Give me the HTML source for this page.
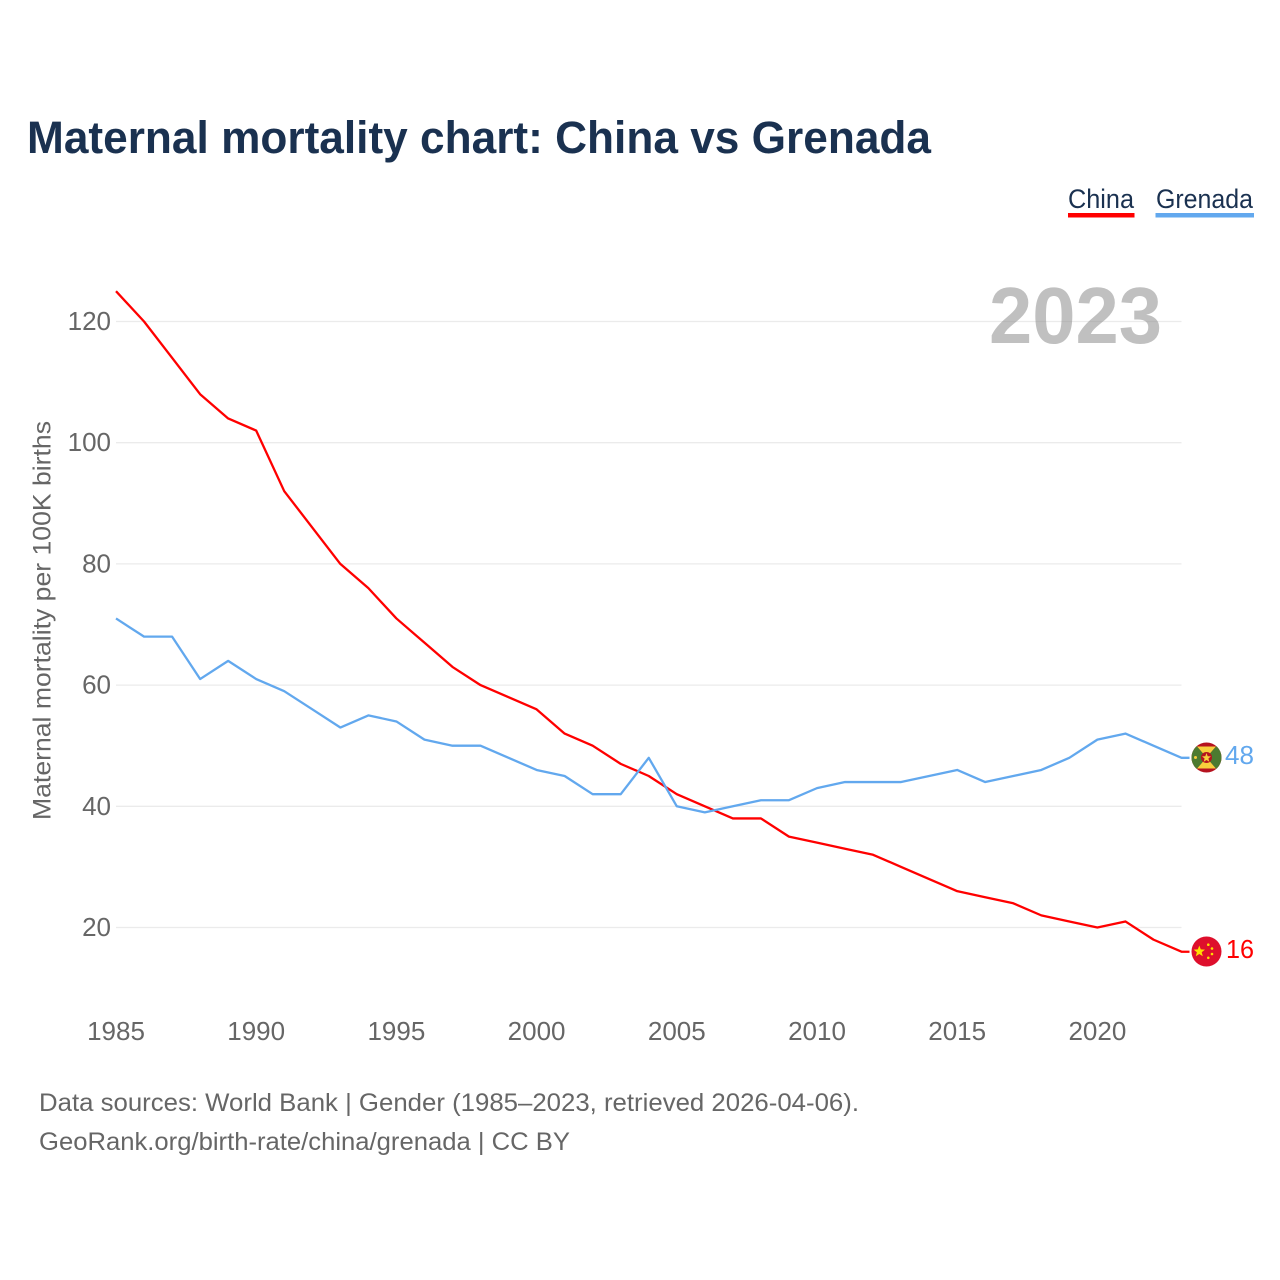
<!DOCTYPE html>
<html lang="en">
<head>
<meta charset="utf-8">
<title>Maternal mortality chart: China vs Grenada</title>
<style>
html,body{margin:0;padding:0;background:#fff;}
svg{display:block;font-family:"Liberation Sans",sans-serif;}
</style>
</head>
<body>
<svg id="chart" xmlns="http://www.w3.org/2000/svg" width="1280" height="1280" viewBox="0 0 1280 1280">
  <defs>
    <clipPath id="clip-gd"><circle cx="1206.5" cy="757.5" r="15"/></clipPath>
    <clipPath id="clip-cn"><circle cx="1206.5" cy="951.5" r="15"/></clipPath>
  </defs>
  <rect width="1280" height="1280" fill="#fff"/>
  <text x="27" y="153" font-size="45" font-weight="700" fill="#1a3150" textLength="904" lengthAdjust="spacingAndGlyphs">Maternal mortality chart: China vs Grenada</text>

  <g>
    <g>
      <text x="1068" y="208" font-size="27" fill="#1a3150" textLength="66" lengthAdjust="spacingAndGlyphs">China</text>
      <rect x="1068" y="213" width="66.5" height="4.5" fill="#ff0000"/>
    </g>
    <g>
      <text x="1156" y="208" font-size="27" fill="#1a3150" textLength="97" lengthAdjust="spacingAndGlyphs">Grenada</text>
      <rect x="1155.5" y="213" width="98.5" height="4.5" fill="#62a8ee"/>
    </g>
  </g>

  <g id="grid"></g>
  <g id="ylabels"></g>
  <g id="xlabels"></g>

  <text transform="translate(50.5,820) rotate(-90)" font-size="25" fill="#666" textLength="399" lengthAdjust="spacingAndGlyphs">Maternal mortality per 100K births</text>

  <text x="989" y="343" font-size="80" font-weight="700" fill="#8c8c8c" fill-opacity="0.55" textLength="173" lengthAdjust="spacingAndGlyphs">2023</text>

  <g id="series"></g>

  <g clip-path="url(#clip-gd)">
    <rect x="1191" y="742" width="31" height="31" fill="#b5121f"/>
    <polygon points="1197,746.5 1216,746.5 1206.5,757.5" fill="#f7cf3c"/>
    <polygon points="1197,768.5 1216,768.5 1206.5,757.5" fill="#f7cf3c"/>
    <polygon points="1190,740 1197,746.5 1206.5,757.5 1197,768.5 1190,775" fill="#4c7a30"/>
    <polygon points="1223,740 1216,746.5 1206.5,757.5 1216,768.5 1223,775" fill="#4c7a30"/>
    <circle cx="1206.5" cy="757.5" r="5.5" fill="#b5121f"/>
    <polygon points="1206.5,753 1207.7,756.2 1211,756.4 1208.4,758.5 1209.3,761.8 1206.5,760 1203.7,761.8 1204.6,758.5 1202,756.4 1205.3,756.2" fill="#f7cf3c"/>
    <circle cx="1195.5" cy="757.5" r="1.5" fill="#f7cf3c"/>
  </g>
  <text id="end-label-grenada" x="1225" y="764" font-size="26" fill="#62a8ee" textLength="29" lengthAdjust="spacingAndGlyphs"></text>

  <g clip-path="url(#clip-cn)">
    <rect x="1191" y="936" width="31" height="31" fill="#de0f2c"/>
    <polygon points="1199.3,945.5 1200.8,949.4 1205,949.6 1201.7,952.2 1202.8,956.3 1199.3,954 1195.8,956.3 1196.9,952.2 1193.6,949.6 1197.8,949.4" fill="#ffde00"/>
    <circle cx="1208.3" cy="944.7" r="1.3" fill="#ffde00"/>
    <circle cx="1212" cy="948.5" r="1.3" fill="#ffde00"/>
    <circle cx="1212" cy="954" r="1.3" fill="#ffde00"/>
    <circle cx="1208.3" cy="957.8" r="1.3" fill="#ffde00"/>
  </g>
  <text id="end-label-china" x="1226" y="958" font-size="26" fill="#ff0000" textLength="28" lengthAdjust="spacingAndGlyphs"></text>

  <g>
    <text x="39" y="1111" font-size="25" fill="#666" textLength="820" lengthAdjust="spacingAndGlyphs">Data sources: World Bank | Gender (1985–2023, retrieved 2026-04-06).</text>
    <text x="39" y="1150" font-size="25" fill="#666" textLength="531" lengthAdjust="spacingAndGlyphs">GeoRank.org/birth-rate/china/grenada | CC BY</text>
  </g>
</svg>
<script>
const years = [1985,1986,1987,1988,1989,1990,1991,1992,1993,1994,1995,1996,1997,1998,1999,2000,2001,2002,2003,2004,2005,2006,2007,2008,2009,2010,2011,2012,2013,2014,2015,2016,2017,2018,2019,2020,2021,2022,2023];
const chinaValues = [125,120,114,108,104,102,92,86,80,76,71,67,63,60,58,56,52,50,47,45,42,40,38,38,35,34,33,32,30,28,26,25,24,22,21,20,21,18,16];
const grenadaValues = [71,68,68,61,64,61,59,56,53,55,54,51,50,50,48,46,45,42,42,48,40,39,40,41,41,43,44,44,44,45,46,44,45,46,48,51,52,50,48];
const yTicks = [20,40,60,80,100,120];
const xTicks = [1985,1990,1995,2000,2005,2010,2015,2020];

const NS = 'http://www.w3.org/2000/svg';
const xScale = function (year) { return 116 + (year - 1985) * (1181.5 - 116) / 38; };
const yScale = function (value) { return 927.5 - (value - 20) * (927.5 - 321.5) / 100; };
const make = function (tag) { return document.createElementNS(NS, tag); };

const gridGroup = document.getElementById('grid');
const yGroup = document.getElementById('ylabels');
const xGroup = document.getElementById('xlabels');
const seriesGroup = document.getElementById('series');

yTicks.forEach(function (tick) {
  const line = make('line');
  
  
  line.setAttribute('x1', xScale(1985));
  line.setAttribute('x2', xScale(2023));
  line.setAttribute('y1', yScale(tick));
  line.setAttribute('y2', yScale(tick));
  line.setAttribute('stroke', '#ebebeb');
  line.setAttribute('stroke-width', '1.3');
  gridGroup.appendChild(line);

  const label = make('text');
  
  
  label.setAttribute('x', 111);
  label.setAttribute('y', yScale(tick) + 8.5);
  label.setAttribute('text-anchor', 'end');
  label.setAttribute('font-size', '26');
  label.setAttribute('fill', '#666');
  label.textContent = tick;
  yGroup.appendChild(label);
});

xTicks.forEach(function (tick) {
  const label = make('text');
  
  
  label.setAttribute('x', xScale(tick));
  label.setAttribute('y', 1040);
  label.setAttribute('text-anchor', 'middle');
  label.setAttribute('font-size', '26');
  label.setAttribute('fill', '#666');
  label.textContent = tick;
  xGroup.appendChild(label);
});

function drawSeries(values, color, name) {
  const pts = values.map(function (v, i) { return xScale(years[i]).toFixed(2) + ',' + yScale(v).toFixed(2); });
  const last = values[values.length - 1];
  pts.push((xScale(years[years.length - 1]) + 8).toFixed(2) + ',' + yScale(last).toFixed(2));
  const line = make('polyline');
  
  
  line.setAttribute('points', pts.join(' '));
  line.setAttribute('fill', 'none');
  line.setAttribute('stroke', color);
  line.setAttribute('stroke-width', '2.3');
  line.setAttribute('stroke-linejoin', 'round');
  seriesGroup.appendChild(line);
  document.getElementById('end-label-' + name).textContent = last;
}
drawSeries(chinaValues, '#ff0000', 'china');
drawSeries(grenadaValues, '#62a8ee', 'grenada');
</script>
</body>
</html>
